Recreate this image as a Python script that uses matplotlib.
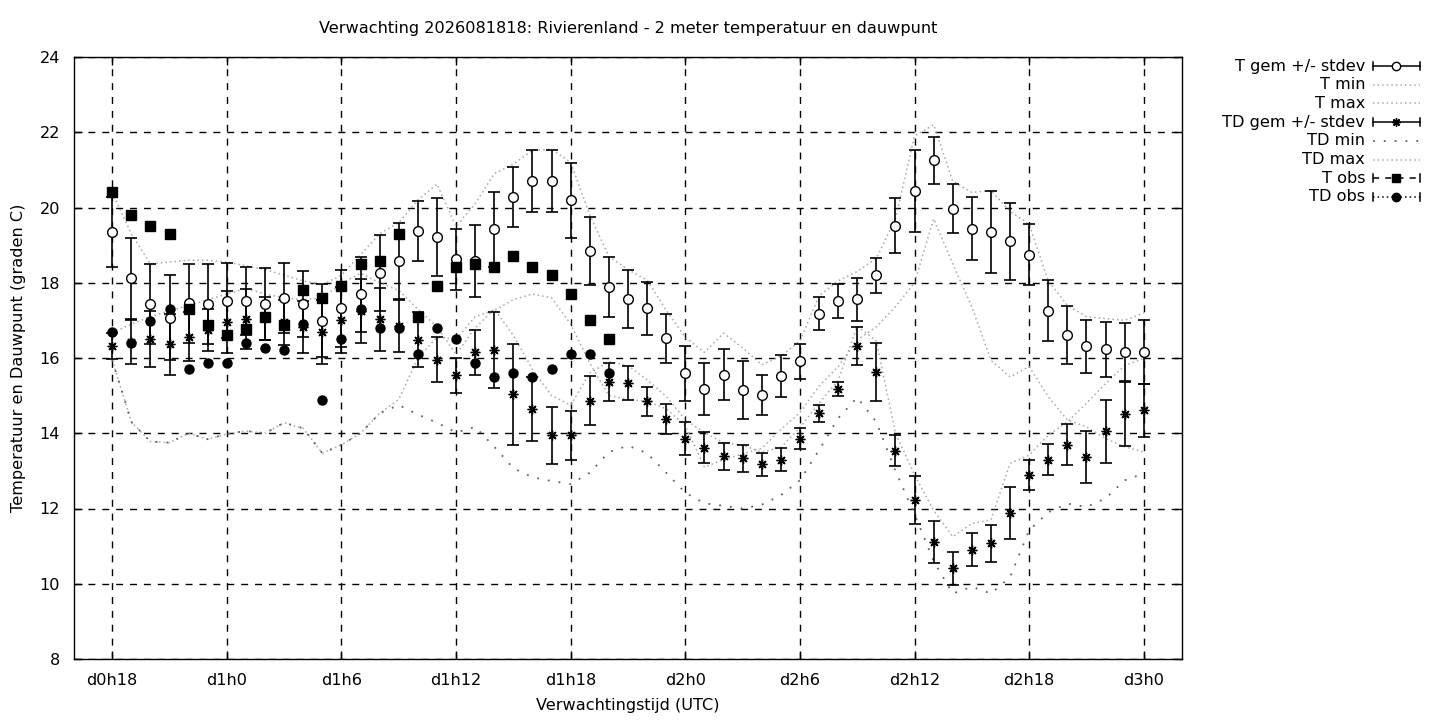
import numpy as np
import matplotlib
matplotlib.use("Agg")
import matplotlib.pyplot as plt
from matplotlib.lines import Line2D

# --- data (uren vanaf d0h0) ---
uren = list(range(18, 73))

t_gem = [19.36, 18.12, 17.43, 17.07, 17.45, 17.43, 17.52, 17.52, 17.43, 17.59,
         17.43, 16.99, 17.32, 17.69, 18.25, 18.58, 19.38, 19.21, 18.62, 18.58,
         19.42, 20.27, 20.70, 20.70, 20.19, 18.84, 17.89, 17.56, 17.32, 16.52,
         15.59, 15.17, 15.56, 15.15, 15.01, 15.52, 15.91, 17.18, 17.51, 17.56,
         18.20, 19.52, 20.45, 21.25, 19.97, 19.44, 19.34, 19.10, 18.75, 17.26,
         16.62, 16.31, 16.23, 16.15, 16.15]
t_std = [0.93, 1.08, 1.06, 1.13, 1.04, 1.06, 1.00, 0.90, 0.95, 0.93,
         0.88, 0.97, 1.02, 1.00, 1.01, 1.00, 0.80, 1.03, 0.82, 0.95,
         1.00, 0.80, 0.82, 0.83, 1.00, 0.90, 0.80, 0.77, 0.70, 0.65,
         0.72, 0.69, 0.67, 0.78, 0.53, 0.55, 0.46, 0.43, 0.46, 0.57,
         0.47, 0.72, 1.09, 0.62, 0.66, 0.84, 1.09, 1.03, 0.80, 0.80,
         0.77, 0.70, 0.74, 0.77, 0.85]
t_min = [15.95, 14.30, 13.78, 13.75, 14.00, 13.84, 13.98, 14.06, 14.00, 14.28,
         14.13, 13.47, 13.69, 14.00, 14.53, 14.90, 16.00, 16.55, 16.50, 17.10,
         17.27, 17.55, 17.70, 17.60, 16.90, 15.86, 15.00, 14.90, 14.85, 14.65,
         14.20, 13.10, 13.30, 13.45, 13.60, 14.10, 14.55, 15.25, 15.77, 16.48,
         16.83, 17.36, 18.00, 19.70, 18.50, 17.36, 15.94, 15.50, 15.77, 14.97,
         14.35, 14.17, 13.86, 13.64, 13.50]
t_max = [20.40, 19.30, 18.50, 18.55, 18.60, 18.60, 18.55, 18.45, 18.35, 18.20,
         18.05, 17.95, 18.20, 18.75, 19.30, 19.60, 20.20, 20.62, 19.50, 20.10,
         20.90, 21.15, 21.52, 21.55, 21.20, 19.80, 18.70, 18.35, 18.07, 17.27,
         16.55, 16.15, 16.66, 16.27, 15.82, 16.05, 16.45, 17.65, 18.05, 18.30,
         18.65, 19.70, 21.90, 22.20, 20.70, 20.40, 20.45, 19.90, 19.55, 18.05,
         17.40, 17.10, 17.05, 17.00, 17.20]

td_gem = [16.32, 16.43, 16.50, 16.36, 16.57, 16.74, 16.95, 17.03, 17.05, 16.95,
          16.82, 16.69, 17.01, 17.25, 17.03, 16.85, 16.48, 15.96, 15.54, 16.15,
          16.21, 15.03, 14.64, 13.95, 13.95, 14.86, 15.36, 15.33, 14.85, 14.37,
          13.86, 13.62, 13.39, 13.33, 13.17, 13.30, 13.85, 14.53, 15.17, 16.32,
          15.62, 13.54, 12.22, 11.10, 10.41, 10.91, 11.07, 11.89, 12.89, 13.30,
          13.70, 13.37, 14.05, 14.51, 14.61]
td_std = [0.35, 0.58, 0.74, 0.81, 0.65, 0.55, 0.83, 0.80, 0.57, 0.60,
          0.70, 0.85, 0.87, 0.86, 0.84, 0.68, 0.73, 0.60, 0.47, 0.60,
          1.02, 1.33, 0.85, 0.76, 0.65, 0.65, 0.50, 0.45, 0.39, 0.40,
          0.44, 0.40, 0.36, 0.35, 0.30, 0.30, 0.28, 0.22, 0.18, 0.50,
          0.77, 0.41, 0.64, 0.56, 0.43, 0.43, 0.48, 0.69, 0.41, 0.41,
          0.55, 0.69, 0.83, 0.84, 0.70]
td_min = [15.95, 14.30, 13.78, 13.75, 14.00, 13.84, 13.98, 14.06, 14.00, 14.28,
          14.13, 13.47, 13.69, 14.00, 14.53, 14.75, 14.50, 14.28, 14.02, 14.17,
          13.64, 13.07, 12.83, 12.73, 12.65, 12.95, 13.50, 13.67, 13.47, 12.95,
          12.42, 12.14, 12.07, 12.00, 12.10, 12.35, 12.75, 13.55, 14.40, 14.95,
          14.30, 13.00, 11.85, 10.60, 9.74, 9.92, 9.74, 10.18, 11.42, 11.90,
          12.13, 12.04, 12.27, 12.75, 12.93]
td_max = [16.67, 16.90, 17.10, 17.25, 17.40, 17.55, 17.70, 17.85, 17.70, 17.60,
          17.55, 17.60, 17.98, 18.25, 18.00, 17.80, 17.30, 16.83, 16.10, 16.80,
          17.30, 16.60, 15.70, 15.00, 14.75, 15.60, 15.90, 15.80, 15.42, 14.98,
          14.36, 14.02, 13.75, 13.68, 13.50, 13.62, 14.15, 14.80, 15.40, 16.85,
          16.45, 14.00, 12.90, 11.95, 11.25, 11.60, 11.70, 13.20, 13.42, 13.95,
          14.30, 14.80, 15.32, 15.80, 15.99]

obs_uren = list(range(18, 45))
t_obs = [20.40, 19.80, 19.51, 19.30, 17.29, 16.89, 16.60, 16.78, 17.08, 16.89,
         17.81, 17.59, 17.91, 18.49, 18.59, 19.30, 17.10, 17.91, 18.41, 18.49,
         18.41, 18.70, 18.41, 18.20, 17.69, 17.00, 16.50]
td_obs = [16.68, 16.39, 16.99, 17.29, 15.70, 15.88, 15.88, 16.39, 16.27, 16.21,
          16.90, 14.88, 16.50, 17.29, 16.79, 16.79, 16.10, 16.79, 16.50, 15.88,
          15.49, 15.59, 15.49, 15.70, 16.10, 16.10, 15.59]

tick_uren = [18, 24, 30, 36, 42, 48, 54, 60, 66, 72]
tick_labels = ["d0h18", "d1h0", "d1h6", "d1h12", "d1h18",
               "d2h0", "d2h6", "d2h12", "d2h18", "d3h0"]

# --- stijl ---
plt.rcParams['font.family'] = ['DejaVu Sans']
FS = 11.6
grijs = '#a8a8a8'
grijs_donker = '#606060'
asterisk = (8, 2, 0)

fig = plt.figure(figsize=(14.4, 7.2), dpi=100)
ax = fig.add_axes([74/1440, 1 - 659/720, (1182-74)/1440, (659-57)/720])

# min/max lijnen
ax.plot(uren, t_min, color=grijs, lw=1.1, ls=(0, (1, 2)), zorder=2)
ax.plot(uren, t_max, color=grijs, lw=1.1, ls=(0, (1, 2)), zorder=2)
ax.plot(uren, td_max, color=grijs, lw=1.1, ls=(0, (1, 2)), zorder=2)
ax.plot(uren, td_min, color=grijs_donker, lw=1.3, ls=(0, (1, 5)), zorder=2)

# gemiddelden met stdev
ax.errorbar(uren, t_gem, yerr=t_std, fmt='none', ecolor='black',
            elinewidth=1.2, capsize=4.5, capthick=1.2, zorder=3)
ax.plot(uren, t_gem, ls='none', marker='o', ms=7, mfc='white', mec='black',
        mew=1.0, zorder=5)
ax.errorbar(uren, td_gem, yerr=td_std, fmt='none', ecolor='black',
            elinewidth=1.2, capsize=4.5, capthick=1.2, zorder=3)
ax.plot(uren, td_gem, ls='none', marker=asterisk, ms=7, mec='black',
        mew=1.0, zorder=5)

# waarnemingen
ax.plot(obs_uren, t_obs, ls='none', marker='s', ms=6.5, color='black', zorder=6)
ax.plot(obs_uren, td_obs, ls='none', marker='o', ms=6.5, color='black', zorder=6)

ax.set_xlim(16, 74)
ax.set_ylim(8, 24)
ax.set_xticks(tick_uren)
ax.set_xticklabels(tick_labels)
ax.set_yticks(np.arange(8, 25, 2))
ax.tick_params(direction='in', length=6, width=1, top=True, right=True,
               labelsize=FS, pad=10)
ax.grid(True, color='black', ls=(0, (5, 5)), lw=1.0)
for sp in ax.spines.values():
    sp.set_linewidth(1.0)

ax.set_xlabel('Verwachtingstijd (UTC)', fontsize=FS, labelpad=7)
ax.set_ylabel('Temperatuur en Dauwpunt (graden C)', fontsize=FS, labelpad=10)
fig.text(628/1440, 1 - 29/720,
         'Verwachting 2026081818: Rivierenland - 2 meter temperatuur en dauwpunt',
         ha='center', va='center', fontsize=FS)

# --- legenda (gnuplot stijl) ---
def fx(px):
    return px / 1440

def fy(py):
    return 1 - py / 720

leg = [("T gem +/- stdev", "err", 'o', 'white', '-'),
       ("T min", "line", None, None, None),
       ("T max", "line", None, None, None),
       ("TD gem +/- stdev", "err", asterisk, 'black', '-'),
       ("TD min", "tdmin", None, None, None),
       ("TD max", "line", None, None, None),
       ("T obs", "err", 's', 'black', (0, (4, 4))),
       ("TD obs", "err", 'o', 'black', (0, (1, 2)))]
x0, x1 = 1373, 1420
for i, (naam, soort, mk, mfc, ls) in enumerate(leg):
    py = 66 + i * 18.7
    fig.text(fx(1365), fy(py), naam, ha='right', va='center', fontsize=FS)
    if soort == "err":
        fig.add_artist(Line2D([fx(x0), fx(x1)], [fy(py), fy(py)], color='black',
                              lw=1.1, ls=ls))
        for xc in (x0, x1):
            fig.add_artist(Line2D([fx(xc), fx(xc)], [fy(py - 4), fy(py + 4)],
                                  color='black', lw=1.1))
        fig.add_artist(Line2D([fx(1396)], [fy(py)], ls='none', marker=mk,
                              ms=6, mfc=mfc, mec='black', mew=1.0))
    elif soort == "line":
        fig.add_artist(Line2D([fx(x0), fx(x1)], [fy(py), fy(py)], color=grijs,
                              lw=1.1, ls=(0, (1, 2))))
    else:
        fig.add_artist(Line2D([fx(x0), fx(x1)], [fy(py), fy(py)],
                              color=grijs_donker, lw=1.3, ls=(0, (1, 5))))

fig.savefig('out.png', dpi=100)
